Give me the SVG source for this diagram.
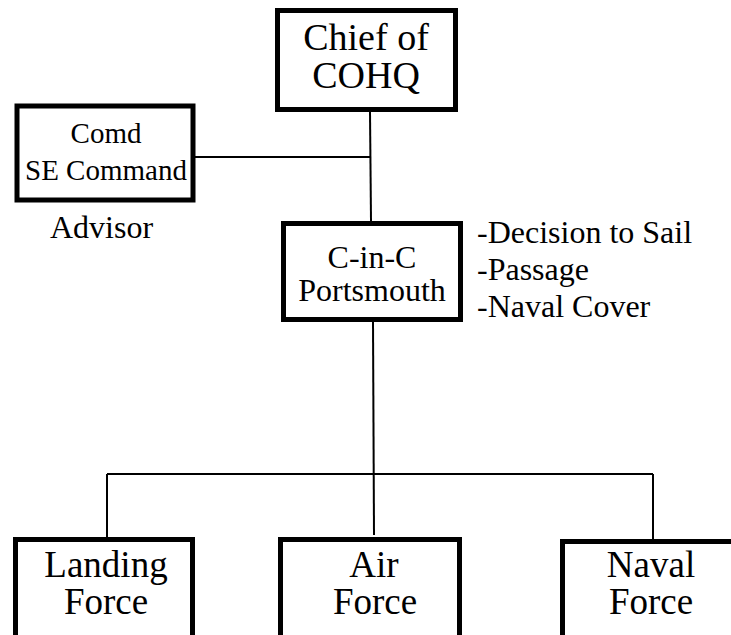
<svg xmlns="http://www.w3.org/2000/svg" width="731" height="635" viewBox="0 0 731 635">
<style>
text{font-family:'Liberation Serif','Times New Roman',serif;fill:#000}
.c{text-anchor:middle}
.box{fill:#fff;stroke:#000;stroke-width:5}
.ln{fill:none;stroke:#000;stroke-width:2}
</style>
<rect width="731" height="635" fill="#fff"/>
<g id="connectors">
<line class="ln" x1="370" y1="112" x2="371" y2="221"/>
<line class="ln" x1="195" y1="157" x2="370" y2="157"/>
<line class="ln" x1="373" y1="322" x2="374" y2="535"/>
<line class="ln" x1="107" y1="474" x2="653" y2="474"/>
<line class="ln" x1="107" y1="474" x2="107" y2="537"/>
<line class="ln" x1="653" y1="474" x2="653" y2="539"/>
</g>
<g id="chief">
<rect class="box" x="277.5" y="10.5" width="178" height="99"/>
<text class="c" x="366" y="50" font-size="38">Chief of</text>
<text class="c" x="366" y="88" font-size="38">COHQ</text>
</g>
<g id="comd">
<rect class="box" x="17" y="106" width="176" height="94" stroke-width="4"/>
<text class="c" x="106" y="143" font-size="29">Comd</text>
<text class="c" x="106" y="180" font-size="29">SE Command</text>
</g>
<g id="advisor">
<text x="50" y="238" font-size="32">Advisor</text>
</g>
<g id="cinc">
<rect class="box" x="283.5" y="223.5" width="177" height="96"/>
<text class="c" x="372" y="268" font-size="32">C-in-C</text>
<text class="c" x="372" y="301" font-size="32">Portsmouth</text>
</g>
<g id="roles">
<text x="477" y="243" font-size="32">-Decision to Sail</text>
<text x="477" y="280" font-size="32">-Passage</text>
<text x="477" y="317" font-size="32">-Naval Cover</text>
</g>
<g id="landing">
<rect class="box" x="15.5" y="539.5" width="177" height="110"/>
<text class="c" x="106" y="577" font-size="37">Landing</text>
<text class="c" x="106" y="614" font-size="37">Force</text>
</g>
<g id="air">
<rect class="box" x="280.5" y="539.5" width="179" height="110"/>
<text class="c" x="374" y="577" font-size="37">Air</text>
<text class="c" x="375" y="614" font-size="37">Force</text>
</g>
<g id="naval">
<rect class="box" x="562.5" y="541.5" width="180" height="110"/>
<text class="c" x="651" y="577" font-size="37">Naval</text>
<text class="c" x="651" y="614" font-size="37">Force</text>
</g>
</svg>
